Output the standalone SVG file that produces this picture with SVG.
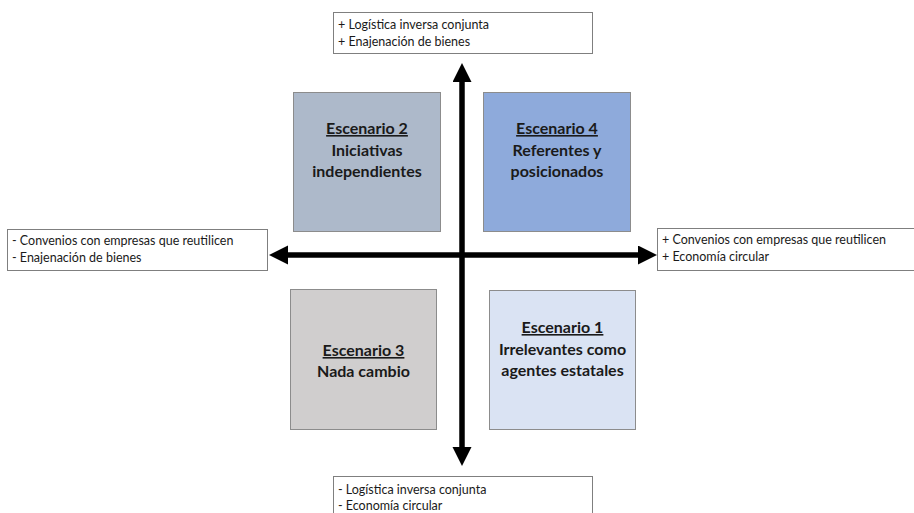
<svg xmlns="http://www.w3.org/2000/svg" width="914" height="513" viewBox="0 0 914 513">
  <style>
    .note { fill: #ffffff; stroke: #7f7f7f; stroke-width: 1; }
    .note-text { font-family: Lato, "Liberation Sans", sans-serif; font-size: 12.5px; fill: #1a1a1a; }
    .scen { stroke: #8c8c8c; stroke-width: 1; }
    .title { font-family: Lato, "Liberation Sans", sans-serif; font-size: 16px; font-weight: bold; fill: #1a1a1a; text-anchor: middle; }
    .u { text-decoration: underline; }
    .axis { stroke: #000000; stroke-width: 5.5; fill: none; }
  </style>
  <defs>
    <marker id="head" markerUnits="userSpaceOnUse" markerWidth="20" markerHeight="20" refX="0" refY="9.5" orient="auto-start-reverse">
      <path d="M0,0 L19,9.5 L0,19 Z" fill="#000000"/>
    </marker>
  </defs>
  <rect width="914" height="513" fill="#ffffff"/>

  <!-- axes -->
  <g id="connectors">
    <line class="axis" x1="462" y1="82" x2="462" y2="447" marker-start="url(#head)" marker-end="url(#head)"/>
    <line class="axis" x1="288" y1="255" x2="638" y2="255" marker-start="url(#head)" marker-end="url(#head)"/>
  </g>

  <!-- axis end labels -->
  <g id="label-top">
    <rect class="note" x="333.5" y="12.5" width="259" height="41"/>
    <text class="note-text" x="338" y="29">+ Logística inversa conjunta</text>
    <text class="note-text" x="338" y="46">+ Enajenación de bienes</text>
  </g>
  <g id="label-bottom">
    <rect class="note" x="333.5" y="476.5" width="259" height="41"/>
    <text class="note-text" x="338" y="494">- Logística inversa conjunta</text>
    <text class="note-text" x="338" y="510">- Economía circular</text>
  </g>
  <g id="label-left">
    <rect class="note" x="7.5" y="229.5" width="260" height="41"/>
    <text class="note-text" x="12" y="245">- Convenios con empresas que reutilicen</text>
    <text class="note-text" x="12" y="262">- Enajenación de bienes</text>
  </g>
  <g id="label-right">
    <rect class="note" x="657.5" y="228.5" width="260" height="42"/>
    <text class="note-text" x="662" y="244">+ Convenios con empresas que reutilicen</text>
    <text class="note-text" x="662" y="261">+ Economía circular</text>
  </g>

  <!-- scenario quadrants -->
  <g id="escenario-2">
    <rect class="scen" x="293.5" y="92.5" width="147" height="139" fill="#adb9ca"/>
    <text class="title" x="367" y="134"><tspan class="u">Escenario 2</tspan></text>
    <text class="title" x="367" y="156">Iniciativas</text>
    <text class="title" x="367" y="177">independientes</text>
  </g>
  <g id="escenario-4">
    <rect class="scen" x="483.5" y="92.5" width="147" height="139" fill="#8eaadb"/>
    <text class="title" x="557" y="134"><tspan class="u">Escenario 4</tspan></text>
    <text class="title" x="557" y="156">Referentes y</text>
    <text class="title" x="557" y="177">posicionados</text>
  </g>
  <g id="escenario-3">
    <rect class="scen" x="290.5" y="289.5" width="146" height="140" fill="#d0cece"/>
    <text class="title" x="363.5" y="356"><tspan class="u">Escenario 3</tspan></text>
    <text class="title" x="363.5" y="377">Nada cambio</text>
  </g>
  <g id="escenario-1">
    <rect class="scen" x="489.5" y="290.5" width="146" height="139" fill="#dae3f3"/>
    <text class="title" x="562.5" y="333"><tspan class="u">Escenario 1</tspan></text>
    <text class="title" x="562.5" y="355">Irrelevantes como</text>
    <text class="title" x="562.5" y="376">agentes estatales</text>
  </g>
</svg>
